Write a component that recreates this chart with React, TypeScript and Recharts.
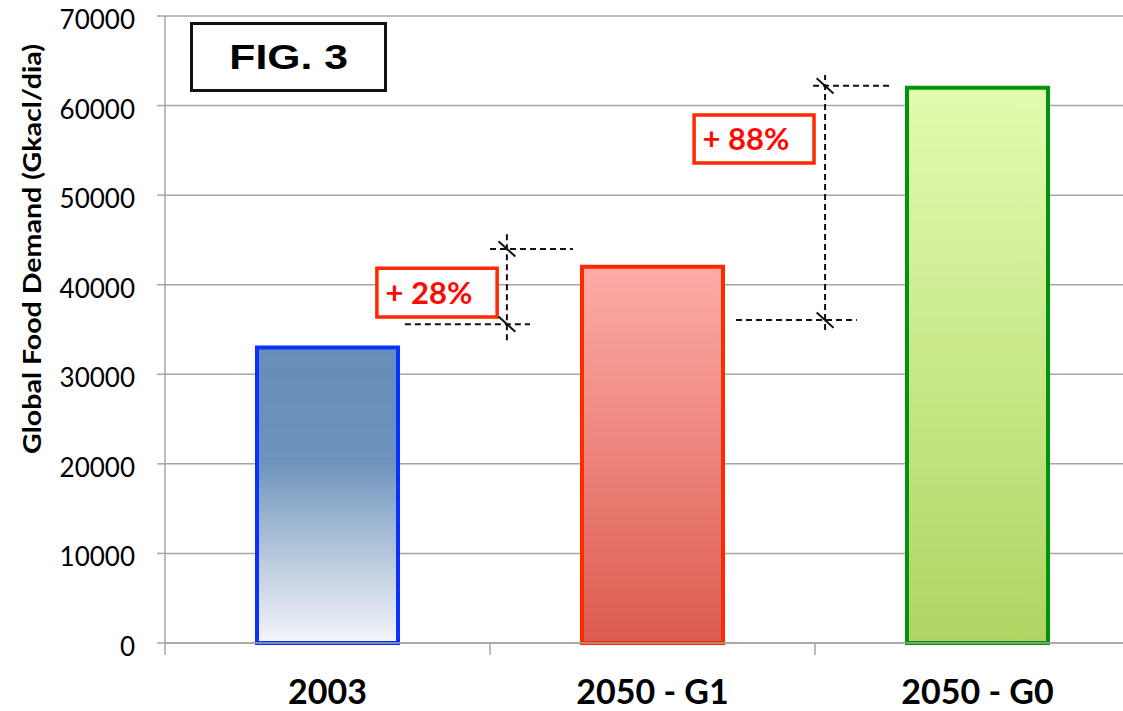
import {
  BarChart,
  Bar,
  Cell,
  XAxis,
  YAxis,
  CartesianGrid,
  ReferenceLine,
  ReferenceArea,
} from "recharts";

const categories = ["2003", "2050 - G1", "2050 - G0"];
const demand = [33000, 42000, 62000];
const yTicks = [0, 10000, 20000, 30000, 40000, 50000, 60000, 70000];

const barStroke = ["#0a32ff", "#ff2a00", "#00940c"];
const barFill = ["url(#fillBlue)", "url(#fillRed)", "url(#fillGreen)"];

// growth callouts, x in category units (0..3) on the helper axis
const percentLabels = ["+ 28%", "+ 88%"];
const labelBoxX = [[0.652, 1.022], [1.628, 1.997]];
const labelBoxY = [[36400, 41850], [53600, 58950]];
const bracketX = [1.052, 2.031];
const bracketSpan = [[33800, 45900], [34950, 63400]];
const upperTickY = [44000, 62200];
const upperTickX = [[1.0, 1.255], [1.994, 2.234]];
const lowerTickY = [35600, 36050];
const lowerTickX = [[0.738, 1.123], [1.757, 2.129]];

const CHART_W = 1160;
const CHART_H = 711;
const LEFT = 165;
const RIGHT = 20;
const BAND = (CHART_W - LEFT - RIGHT) / categories.length;
const GRID = "#a6a6a6";
const FONT = "Lato, 'Open Sans', sans-serif";

// slot = centre of each category in band units, feeds the helper axis
const data = categories.map((name, i) => ({ name, value: demand[i], slot: i + 0.5 }));

function CategoryTick(props: any) {
  const { x, y, payload } = props;
  return (
    <g>
      <line x1={x - BAND / 2} x2={x - BAND / 2} y1={y} y2={y + 12} stroke={GRID} strokeWidth={1.5} />
      <text x={x} y={y + 61} textAnchor="middle" fontFamily={FONT} fontWeight={700} fontSize={34} fill="#000">
        {payload.value}
      </text>
    </g>
  );
}

function ValueTick(props: any) {
  const { x, y, payload } = props;
  return (
    <text x={x} y={y} dy={13} textAnchor="end" fontFamily={FONT} fontSize={26} fill="#000">
      {payload.value}
    </text>
  );
}

function AxisTitle() {
  return (
    <text
      x={31}
      y={249}
      transform="rotate(-90, 31, 249)"
      textAnchor="middle"
      dominantBaseline="central"
      fontFamily={FONT}
      fontWeight={700}
      fontSize={25}
      textLength={410}
      lengthAdjust="spacingAndGlyphs"
      fill="#000"
    >
      Global Food Demand (Gkacl/dia)
    </text>
  );
}

function Callout(props: any) {
  const { viewBox, value } = props;
  const { x, y, width, height } = viewBox;
  return (
    <text
      x={x + width / 2}
      y={y + height / 2}
      dx={-8}
      dy={11}
      textAnchor="middle"
      fontFamily={FONT}
      fontWeight={700}
      fontSize={31}
      fill="#ff0a00"
    >
      {value}
    </text>
  );
}

function dashed(key: string, a: { x: number; y: number }, b: { x: number; y: number }) {
  return (
    <ReferenceLine
      key={key}
      xAxisId="n"
      segment={[a, b]}
      stroke="#111"
      strokeWidth={2}
      strokeDasharray="6 4"
      ifOverflow="visible"
    />
  );
}

function cross(key: string, cx: number, cy: number) {
  return (
    <ReferenceLine
      key={key}
      xAxisId="n"
      segment={[
        { x: cx - 0.026, y: cy + 850 },
        { x: cx + 0.026, y: cy - 850 },
      ]}
      stroke="#111"
      strokeWidth={2}
      ifOverflow="visible"
    />
  );
}

export default function App() {
  return (
    <div
      style={{
        position: "absolute",
        left: 0,
        top: 0,
        width: 1123,
        height: 711,
        overflow: "hidden",
        background: "#fff",
      }}
    >
      <svg width={0} height={0} style={{ position: "absolute" }}>
        <defs>
          <linearGradient id="fillBlue" x1="0" y1="0" x2="0" y2="1">
            <stop offset="0" stopColor="#5f88b5" stopOpacity={0.95} />
            <stop offset="0.38" stopColor="#648db9" stopOpacity={0.95} />
            <stop offset="0.7" stopColor="#b2c4db" stopOpacity={0.95} />
            <stop offset="1" stopColor="#f3f5f9" stopOpacity={0.95} />
          </linearGradient>
          <linearGradient id="fillRed" x1="0" y1="0" x2="0" y2="1">
            <stop offset="0" stopColor="#fdaca7" />
            <stop offset="1" stopColor="#db5b4f" />
          </linearGradient>
          <linearGradient id="fillGreen" x1="0" y1="0" x2="0" y2="1">
            <stop offset="0" stopColor="#e2fcb0" />
            <stop offset="1" stopColor="#b0d462" />
          </linearGradient>
        </defs>
      </svg>

      <BarChart
        width={CHART_W}
        height={CHART_H}
        data={data}
        margin={{ top: 16, right: RIGHT, left: 0, bottom: 0 }}
      >
        <CartesianGrid vertical={false} stroke={GRID} strokeWidth={1.5} />
        <XAxis
          xAxisId="c"
          dataKey="name"
          height={68}
          axisLine={{ stroke: GRID, strokeWidth: 1.5 }}
          tickLine={false}
          tickSize={0}
          tickMargin={0}
          tick={<CategoryTick />}
          interval={0}
        />
        <XAxis xAxisId="n" dataKey="slot" type="number" domain={[0, 3]} hide allowDataOverflow />
        <YAxis
          width={LEFT}
          domain={[0, 70000]}
          ticks={yTicks}
          interval={0}
          axisLine={{ stroke: GRID, strokeWidth: 1.5 }}
          tickLine={{ stroke: GRID, strokeWidth: 1.5 }}
          tickSize={8}
          tickMargin={22}
          tick={<ValueTick />}
          label={<AxisTitle />}
        />
        <Bar xAxisId="c" dataKey="value" barSize={141} strokeWidth={4} isAnimationActive={false}>
          {data.map((d, i) => (
            <Cell key={d.name} fill={barFill[i]} stroke={barStroke[i]} />
          ))}
        </Bar>

        {percentLabels.map((_, i) => [
          dashed(`v${i}`, { x: bracketX[i], y: bracketSpan[i][0] }, { x: bracketX[i], y: bracketSpan[i][1] }),
          dashed(`u${i}`, { x: upperTickX[i][0], y: upperTickY[i] }, { x: upperTickX[i][1], y: upperTickY[i] }),
          dashed(`l${i}`, { x: lowerTickX[i][0], y: lowerTickY[i] }, { x: lowerTickX[i][1], y: lowerTickY[i] }),
          cross(`cu${i}`, bracketX[i], upperTickY[i]),
          cross(`cl${i}`, bracketX[i], lowerTickY[i]),
        ])}

        {percentLabels.map((text, i) => (
          <ReferenceArea
            key={text}
            xAxisId="n"
            x1={labelBoxX[i][0]}
            x2={labelBoxX[i][1]}
            y1={labelBoxY[i][0]}
            y2={labelBoxY[i][1]}
            fill="#fff"
            fillOpacity={1}
            stroke="#ff2a00"
            strokeWidth={3.5}
            ifOverflow="visible"
            label={<Callout value={text} />}
          />
        ))}
      </BarChart>

      <div
        style={{
          position: "absolute",
          left: 190,
          top: 22,
          width: 197,
          height: 70,
          boxSizing: "border-box",
          border: "3px solid #111",
          background: "#fff",
          display: "flex",
          alignItems: "center",
          justifyContent: "center",
          fontFamily: "'Liberation Sans', Arial, sans-serif",
          fontWeight: 700,
          fontSize: 35,
          color: "#000",
        }}
      >
        <span style={{ display: "inline-block", transform: "scaleX(1.22)" }}>FIG. 3</span>
      </div>
    </div>
  );
}
